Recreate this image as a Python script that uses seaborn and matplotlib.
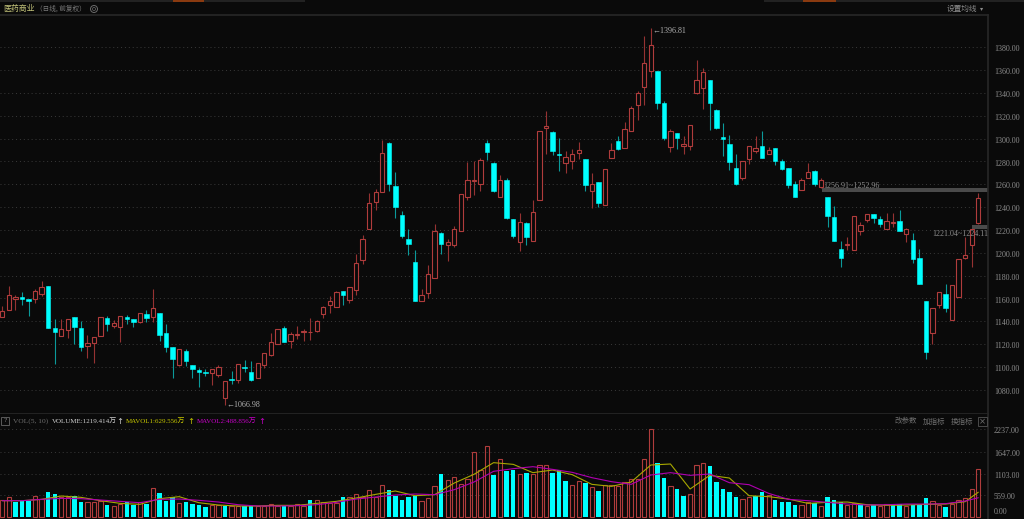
import numpy as np
import pandas as pd
import seaborn as sns
import matplotlib.pyplot as plt
from matplotlib.patches import Rectangle, Ellipse
from matplotlib.transforms import ScaledTranslation

# 日K 数据 (从图上读的)
opens = [1143.4,1149.5,1159.2,1161.0,1159.5,1159.5,1163.6,1170.9,1134.0,1126.7,
         1132.0,1143.7,1134.3,1117.9,1120.5,1126.7,1143.1,1136.0,1134.6,1143.7,
         1142.2,1139.0,1146.6,1143.7,1146.9,1129.6,1117.0,1101.5,1113.5,1101.5,
         1097.4,1095.6,1094.2,1093.0,1073.0,1089.2,1088.6,1100.3,1095.9,1090.6,
         1101.8,1110.0,1119.6,1134.3,1122.6,1127.6,1130.5,1130.2,1131.1,1146.0,
         1154.2,1152.5,1166.5,1158.6,1167.1,1193.8,1221.0,1244.8,1253.3,1295.8,
         1258.6,1233.1,1212.2,1192.0,1157.8,1164.5,1177.7,1217.5,1206.4,1206.4,
         1219.0,1248.9,1263.2,1260.3,1296.0,1278.8,1249.2,1263.5,1229.8,1209.6,
         1226.0,1210.5,1246.2,1309.5,1306.0,1286.1,1278.2,1279.9,1287.0,1282.0,
         1254.4,1262.1,1241.8,1282.9,1297.5,1291.4,1306.9,1329.5,1345.3,1358.8,
         1359.0,1331.5,1292.8,1304.5,1293.7,1293.7,1339.7,1344.1,1351.4,1325.1,
         1301.0,1294.9,1274.4,1265.6,1281.7,1289.3,1293.4,1286.7,1291.4,1280.2,
         1273.8,1260.3,1255.0,1265.6,1271.7,1257.7,1249.2,1231.6,1203.5,1206.4,
         1202.3,1219.3,1229.0,1234.2,1229.8,1221.0,1225.7,1227.8,1216.6,1211.1,
         1195.5,1157.8,1129.6,1154.2,1164.2,1140.8,1161.3,1195.0,1206.4,1226.3]
highs = [1153.0,1170.6,1163.3,1165.7,1159.5,1168.3,1175.6,1170.9,1141.9,1141.9,
         1141.9,1143.7,1139.9,1128.1,1126.1,1143.7,1144.8,1141.3,1144.8,1145.4,
         1142.2,1147.2,1150.1,1168.3,1146.9,1137.2,1117.0,1115.5,1115.5,1101.5,
         1098.6,1098.0,1097.7,1101.5,1087.4,1096.5,1102.6,1106.2,1105.3,1103.2,
         1112.0,1129.6,1133.1,1135.5,1130.8,1135.5,1133.1,1143.1,1141.3,1153.0,
         1161.8,1166.2,1166.5,1169.8,1198.5,1215.2,1252.1,1256.2,1299.0,1296.6,
         1270.3,1236.6,1220.5,1202.3,1168.6,1188.8,1224.8,1218.1,1212.2,1223.4,
         1251.8,1279.1,1279.9,1282.6,1299.0,1279.1,1267.9,1265.0,1229.8,1234.5,
         1226.6,1246.2,1306.3,1323.9,1306.3,1300.5,1289.0,1290.8,1297.2,1282.0,
         1269.7,1262.1,1273.5,1296.0,1301.9,1314.8,1328.3,1341.8,1389.8,1396.81,
         1359.0,1333.0,1308.4,1304.5,1302.5,1311.6,1368.4,1361.7,1351.4,1325.9,
         1313.6,1303.1,1286.1,1279.9,1293.1,1302.2,1306.3,1292.2,1291.4,1282.0,
         1273.8,1263.2,1265.6,1278.5,1272.3,1265.0,1249.2,1241.0,1210.5,1213.7,
         1232.5,1226.9,1234.2,1234.2,1232.2,1235.1,1234.5,1237.5,1221.9,1217.0,
         1202.9,1157.8,1151.3,1165.6,1173.0,1171.8,1194.1,1214.0,1220.7,1252.7]
lows = [1143.4,1149.5,1150.1,1153.9,1144.8,1156.0,1161.8,1133.7,1102.6,1126.7,
        1125.2,1120.0,1114.1,1107.9,1103.8,1126.7,1131.1,1133.7,1121.4,1137.8,
        1135.2,1138.4,1139.6,1139.6,1122.9,1112.6,1090.0,1100.9,1100.9,1090.0,
        1082.4,1092.1,1084.2,1091.5,1066.98,1085.1,1085.7,1095.6,1088.0,1090.6,
        1098.8,1109.1,1119.6,1121.4,1116.4,1124.6,1122.9,1123.7,1130.5,1142.8,
        1147.2,1152.5,1153.9,1155.7,1163.3,1189.7,1221.0,1237.2,1253.3,1254.2,
        1230.4,1212.8,1197.6,1158.0,1157.8,1160.7,1177.7,1198.5,1192.6,1205.2,
        1219.0,1246.2,1250.3,1254.4,1281.1,1253.0,1248.9,1229.2,1212.5,1201.1,
        1206.4,1209.9,1246.2,1286.4,1285.8,1271.4,1269.7,1272.9,1282.0,1253.9,
        1239.2,1240.1,1241.8,1282.9,1290.2,1291.4,1306.9,1316.3,1329.8,1353.8,
        1325.9,1299.0,1288.1,1290.8,1286.1,1290.2,1339.4,1325.9,1307.2,1308.4,
        1284.3,1272.6,1259.4,1263.5,1277.6,1287.3,1282.6,1286.7,1277.0,1272.3,
        1257.1,1248.6,1255.0,1265.0,1258.5,1257.1,1222.2,1209.9,1187.9,1202.3,
        1202.3,1215.5,1226.9,1226.3,1222.2,1220.4,1222.2,1218.7,1209.0,1190.6,
        1172.4,1106.8,1120.2,1151.3,1147.8,1140.8,1161.3,1194.7,1187.9,1224.8]
closes = [1149.0,1163.0,1161.2,1159.2,1158.0,1166.5,1170.0,1133.7,1130.5,1133.1,
          1141.9,1134.9,1117.0,1120.8,1126.1,1143.7,1137.2,1138.4,1144.3,1142.2,
          1139.0,1147.2,1143.1,1151.6,1127.9,1117.3,1107.0,1115.5,1105.0,1098.0,
          1095.6,1094.4,1097.7,1100.0,1087.4,1088.9,1102.1,1098.6,1088.6,1103.2,
          1111.7,1121.7,1133.1,1121.7,1128.7,1128.7,1131.7,1130.8,1140.5,1152.5,
          1157.4,1165.9,1163.0,1169.8,1191.2,1212.2,1243.9,1253.3,1287.6,1260.3,
          1240.1,1214.6,1207.6,1158.0,1162.7,1181.2,1219.3,1207.6,1209.6,1221.0,
          1251.8,1263.5,1264.1,1280.8,1287.8,1254.2,1264.1,1230.7,1214.6,1227.2,
          1214.0,1236.0,1306.3,1311.3,1289.3,1285.8,1283.5,1286.1,1290.2,1259.1,
          1260.6,1243.9,1273.5,1289.6,1291.1,1308.1,1326.5,1340.0,1366.1,1381.9,
          1331.2,1300.2,1306.6,1300.2,1294.9,1311.6,1351.1,1358.2,1331.2,1309.2,
          1299.3,1279.0,1260.0,1279.9,1293.1,1291.4,1283.2,1290.2,1280.5,1272.9,
          1259.4,1248.9,1264.1,1270.6,1260.6,1264.1,1232.2,1210.2,1195.5,1207.9,
          1232.5,1224.6,1233.6,1230.7,1224.9,1227.8,1226.9,1219.0,1221.0,1194.7,
          1172.7,1112.6,1151.3,1165.6,1151.3,1171.8,1194.1,1198.2,1220.7,1247.7]

# 成交量 (万)
volumes = [423,499,372,397,406,533,465,634,575,499,516,533,389,389,380,414,304,279,338,372,
           312,372,329,744,600,414,499,346,372,329,304,262,296,296,279,287,287,270,270,279,
           287,321,279,287,279,338,287,423,431,380,363,363,499,499,592,499,677,499,804,677,
           541,431,499,541,397,473,795,1092,931,1024,838,956,1642,1193,1795,1066,1464,1160,1202,1083,
           1109,1083,1329,1329,1109,1193,914,821,905,863,753,651,812,821,787,880,956,956,1464,2227,
           1363,982,787,711,533,575,1312,1363,1295,888,702,634,507,448,507,533,634,550,431,372,
           389,304,312,380,346,270,499,431,372,312,346,338,279,304,287,321,304,338,279,304,
           296,473,397,296,262,338,423,473,702,1219.414]
vol_down = [2,3,4,7,8,11,12,16,19,20,22,24,25,26,28,29,30,31,34,37,38,43,47,
            52,59,60,61,62,63,67,75,77,78,80,84,85,86,89,91,100,101,103,
            104,108,109,110,111,112,115,116,118,119,120,121,124,126,127,128,
            131,133,136,137,139,140,141,144]

# 均量线, 每3根读一个点
ma_days = [0,3,6,9,12,15,18,21,24,27,30,33,36,39,42,45,48,51,54,57,60,63,66,69,72,75,
           78,81,84,87,90,93,96,99,102,105,108,111,114,117,120,123,126,129,132,135,138,141,144,147,149]
mavol1 = [414,414,448,533,499,414,346,321,465,516,363,304,279,279,296,296,346,397,482,575,660,541,567,863,1083,1380,
          1337,1126,1193,1075,829,778,888,1320,1346,711,1058,990,541,516,456,346,372,380,312,296,304,321,329,389,629.556]
mavol2 = [414,414,448,473,465,431,397,363,448,456,423,380,312,279,279,287,312,372,456,507,558,584,567,694,888,1160,
          1227,1278,1210,1134,999,897,829,1066,1126,1058,1092,871,821,600,448,414,372,329,304,312,329,329,338,406,488.856]

price_ticks = list(range(1080, 1381, 20))
vol_ticks = [2237, 1647, 1103, 559]

BG = '#0a0a0a'
RED = '#b03c3c'
RED_WICK = '#963232'
CYAN = '#00ffff'
CYAN_WICK = '#0b9a9a'
GRID = '#3a3a3a'
LINE = '#262626'
TXT = '#8c8c8c'
W, H = 1024, 519

sns.set_theme(style='dark', rc={'axes.facecolor': BG, 'figure.facecolor': BG})
plt.rcParams['font.family'] = ['Liberation Serif', 'Noto Sans CJK SC', 'DejaVu Sans']


def px(x, y):
    return x / W, 1 - y / H


fig = plt.figure(figsize=(W / 100, H / 100), dpi=100)
ax = fig.add_axes([0, 1 - 414 / H, 988 / W, 399 / H])
ax2 = fig.add_axes([0, 0, 988 / W, 105 / H])

# K线
idx = np.arange(len(opens))
o, h, l, c = map(np.array, (opens, highs, lows, closes))
up = c >= o
top = np.maximum(o, c)
bot = np.minimum(o, c)
ax.vlines(idx[up], l[up], h[up], color=RED_WICK, lw=0.8, zorder=3)
ax.vlines(idx[~up], l[~up], h[~up], color=CYAN_WICK, lw=0.8, zorder=3)
ax.bar(idx[up], (top - bot)[up], bottom=bot[up], width=0.66, facecolor=BG, edgecolor=RED, lw=0.8, zorder=4)
ax.bar(idx[~up], (top - bot)[~up], bottom=bot[~up], width=0.68, color=CYAN, lw=0.4, edgecolor=CYAN, zorder=4)

# 筹码区间
ax.fill_between([125.1, 150.5], 1252.96, 1256.91, color='#4a4a4a', lw=0, zorder=2)
ax.fill_between([148.1, 150.5], 1221.04, 1224.11, color='#4a4a4a', lw=0, zorder=2)

ax.set_xlim(-0.356, 150.48)
ax.set_ylim(1058.7, 1408.2)
ax.set_yticks(price_ticks)
ax.set_yticklabels([f'{v:.2f}' for v in price_ticks])
ax.set_xticks([])
ax.yaxis.tick_right()
ax.tick_params(axis='y', length=0, pad=4.2, labelsize=5.8, labelcolor=TXT)
ax.grid(axis='y', color=GRID, ls=(0, (1, 3)), lw=0.7)
ax.set_axisbelow(True)
for s in ax.spines.values():
    s.set_visible(False)
for side in ['right', 'top', 'bottom']:
    ax.spines[side].set_visible(True)
    ax.spines[side].set_color(LINE)

# 最高最低价和区间文字
fig.text(*px(652, 31), '←1396.81', color='#b0b0b0', fontsize=5.8, va='center', family=['Liberation Serif', 'DejaVu Sans'], zorder=6)
fig.text(*px(226, 405), '←1066.98', color='#b0b0b0', fontsize=5.8, va='center', family=['Liberation Serif', 'DejaVu Sans'], zorder=6)
fig.text(*px(823, 186), '1256.91~1252.96', color=TXT, fontsize=5.8, va='center', zorder=6)
fig.text(*px(932, 234), '1221.04~1224.11', color=TXT, fontsize=5.8, va='center', zorder=6)

# 成交量
vol = pd.DataFrame({'i': idx, 'vol': volumes})
vol['down'] = vol['i'].isin(vol_down)
sns.barplot(data=vol[~vol['down']], x='i', y='vol', native_scale=True, fill=False, color=RED, saturation=1,
            width=0.66, linewidth=0.8, errorbar=None, ax=ax2, zorder=3)
sns.barplot(data=vol[vol['down']], x='i', y='vol', native_scale=True, color=CYAN, saturation=1,
            width=0.68, linewidth=0, errorbar=None, ax=ax2, zorder=3)
sns.lineplot(x=ma_days, y=mavol1, color='#a8a800', lw=0.8, ax=ax2, zorder=5)
sns.lineplot(x=ma_days, y=mavol2, color='#b000b0', lw=0.8, ax=ax2, zorder=5)

ax2.set_xlim(-0.356, 150.48)
ax2.set_ylim(-51, 2616)
ax2.set_yticks(vol_ticks)
ax2.set_yticklabels([f'{v:.2f}' for v in vol_ticks])
ax2.set_xticks([])
ax2.set_xlabel('')
ax2.set_ylabel('')
ax2.yaxis.tick_right()
ax2.tick_params(axis='y', length=0, pad=4.2, labelsize=5.8, labelcolor=TXT)
ax2.grid(axis='y', color=GRID, ls=(0, (1, 3)), lw=0.7)
ax2.set_axisbelow(True)
for s in ax2.spines.values():
    s.set_visible(False)
ax2.spines['right'].set_visible(True)
ax2.spines['right'].set_color(LINE)

# 刻度文字往下挪一点
shift = ScaledTranslation(0, -1.3 / 100, fig.dpi_scale_trans)
for a in (ax, ax2):
    for t in a.get_yticklabels():
        t.set_transform(t.get_transform() + shift)

# 顶部条
for x0, x1, col in [(0, 305, '#222222'), (764, 1024, '#222222'), (173, 204, '#8a3a10'), (803, 836, '#8a3a10')]:
    fig.add_artist(Rectangle(px(x0, 2), (x1 - x0) / W, 2 / H, transform=fig.transFigure, fc=col, ec='none'))

# 标题栏
cjk = ['Noto Sans CJK SC', 'DejaVu Sans']
fig.text(*px(3, 8.5), '医药商业', color='#c4c47a', fontsize=5.7, va='center', family=cjk)
fig.text(*px(36, 8.5), '（日线, 前复权）', color='#7a7a7a', fontsize=4.8, va='center', family=cjk)
fig.add_artist(Ellipse(px(94, 9), 7 / W, 7 / H, transform=fig.transFigure, fill=False, ec='#6a6a6a', lw=0.7))
fig.add_artist(Ellipse(px(94, 9), 3 / W, 3 / H, transform=fig.transFigure, fill=False, ec='#6a6a6a', lw=0.5))
fig.text(*px(947, 9), '设置均线', color=TXT, fontsize=5.5, va='center', family=cjk)
fig.text(*px(979.5, 9), '▾', color=TXT, fontsize=4.5, va='center', family=['DejaVu Sans'])
fig.text(*px(994, 511.5), '0.00', color=TXT, fontsize=5.8, va='center')

# 指标栏
fig.add_artist(Rectangle(px(1, 425), 8 / W, 8 / H, transform=fig.transFigure, fill=False, ec='#5a5a5a', lw=0.7))
fig.text(*px(5, 421), '?', color=TXT, fontsize=5, va='center', ha='center')
fig.text(*px(13, 421.5), 'VOL(5, 10)', color='#6e6e6e', fontsize=5.4, va='center')
fig.text(*px(52, 421.5), 'VOLUME:1219.414万', color='#d0d0d0', fontsize=5, va='center')
fig.text(*px(120, 421.5), '↑', color='#d0d0d0', fontsize=6, va='center', ha='center', family=['DejaVu Sans'])
fig.text(*px(126, 421.5), 'MAVOL1:629.556万', color='#c8c800', fontsize=5, va='center')
fig.text(*px(191, 421.5), '↑', color='#c8c800', fontsize=6, va='center', ha='center', family=['DejaVu Sans'])
fig.text(*px(197, 421.5), 'MAVOL2:488.856万', color='#c800c8', fontsize=5, va='center')
fig.text(*px(262, 421.5), '↑', color='#c800c8', fontsize=6, va='center', ha='center', family=['DejaVu Sans'])

fig.text(*px(895, 421.5), '改参数', color='#6e6e6e', fontsize=5.4, va='center', family=cjk)
fig.text(*px(923, 421.5), '加指标', color='#6e6e6e', fontsize=5.4, va='center', family=cjk)
fig.text(*px(951, 421.5), '换指标', color='#6e6e6e', fontsize=5.4, va='center', family=cjk)
fig.add_artist(Rectangle(px(978, 426), 9 / W, 9 / H, transform=fig.transFigure, fill=False, ec='#4a4a4a', lw=0.7))
fig.text(*px(982.5, 421.5), '×', color='#6e6e6e', fontsize=6, va='center', ha='center', family=['DejaVu Sans'])

fig.savefig('out.png', dpi=100, facecolor=BG)
